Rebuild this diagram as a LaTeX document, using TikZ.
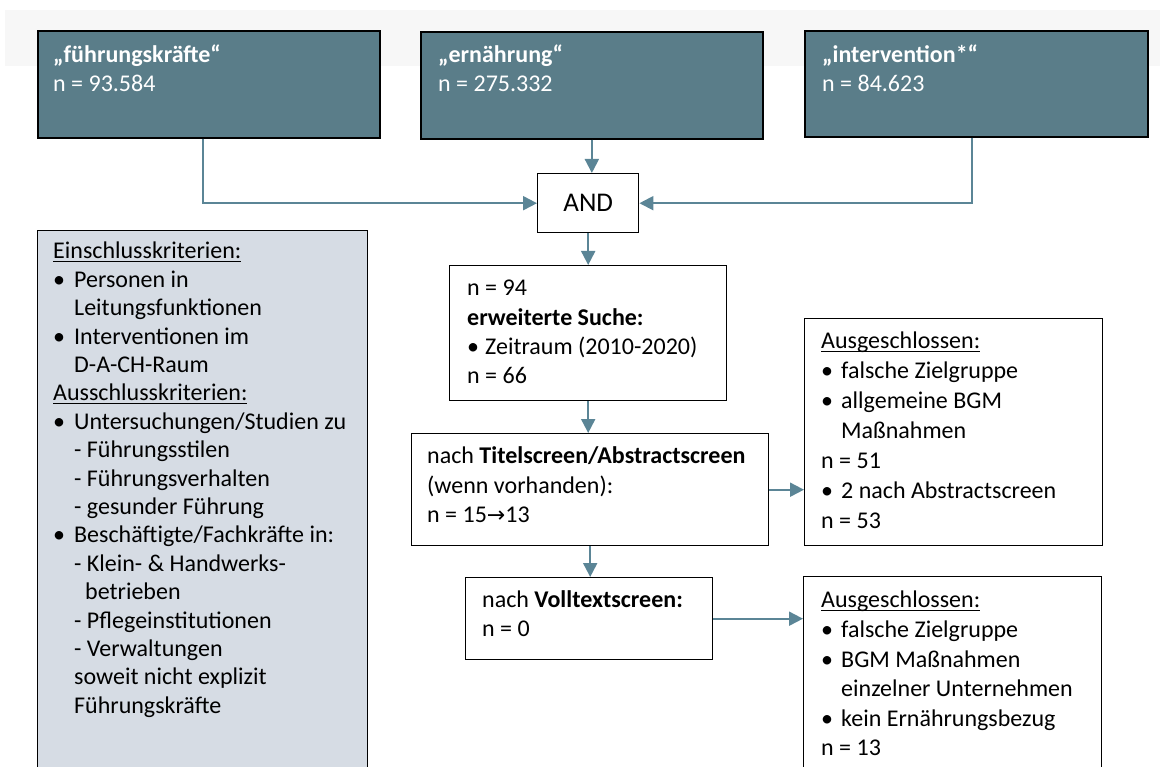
\documentclass[tikz,border=0pt]{standalone}
\usepackage{fontspec}
\setmainfont{Carlito}
\newfontfamily\symf{DejaVu Sans}
\usetikzlibrary{arrows.meta,calc}
\definecolor{topfill}{RGB}{90,125,137}
\definecolor{leftfill}{RGB}{214,220,228}
\definecolor{arrc}{RGB}{91,133,150}
\definecolor{band}{RGB}{247,247,247}
\newcommand\firstln{\rule{0pt}{18pt}}
\newcommand\myul[1]{\setbox0\hbox{#1}\rlap{\rule[-3pt]{\wd0}{1.3pt}}\box0}
\newcommand\bul[1]{\makebox[#1][l]{•}}
\newcommand\ind[1]{\hspace*{#1}}
\begin{document}
\begin{tikzpicture}[x=1pt,y=-1pt,
  box/.style={draw=black, line width=1.4pt, anchor=north west, inner sep=0pt, fill=white},
  topbox/.style={box, fill=topfill, line width=1.7pt},
  txt/.style={anchor=north west, inner sep=0pt, align=left},
  arr/.style={draw=arrc, line width=2pt, -{Triangle[length=14pt,width=14pt]}},
]
\useasboundingbox (0,0) rectangle (1165,767);
\clip (0,0) rectangle (1165,767);
\fill[band] (5,10) rectangle (1160,66);

% top boxes
\node[topbox, minimum width=342pt, minimum height=107pt] (b1) at (37,30) {};
\node[topbox, minimum width=342pt, minimum height=107pt] (b2) at (420,31) {};
\node[topbox, minimum width=343pt, minimum height=106pt] (b3) at (804,30) {};
\node[txt, text=white, font=\fontsize{24}{29}\selectfont] (t1) at (53,44.6) {\firstln\textbf{„führungskräfte“}\\n = 93.584};
\node[txt, text=white, font=\fontsize{24}{29}\selectfont] (t2) at (438,44.6) {\firstln\textbf{„ernährung“}\\n = 275.332};
\node[txt, text=white, font=\fontsize{24}{29}\selectfont] (t3) at (822,44.6) {\firstln\textbf{„intervention*“}\\n = 84.623};

% AND
\node[box, minimum width=101pt, minimum height=59pt, font=\fontsize{27}{32}\selectfont] (and) at (537,173) {AND};

% left criteria box
\node[box, fill=leftfill, minimum width=330pt, minimum height=570pt] (crit) at (37,230) {};
\node[txt, font=\fontsize{24}{28.4}\selectfont] (crittext) at (53,240.6) {\firstln\myul{Einschlusskriterien:}\\
\bul{21pt}Personen in\\
\ind{21pt}Leitungsfunktionen\\
\bul{21pt}Interventionen im\\
\ind{21pt}D-A-CH-Raum\\
\myul{Ausschlusskriterien:}\\
\bul{21pt}Untersuchungen/Studien zu\\
\ind{21pt}- Führungsstilen\\
\ind{21pt}- Führungsverhalten\\
\ind{21pt}- gesunder Führung\\
\bul{21pt}Beschäftigte/Fachkräfte in:\\
\ind{21pt}- Klein- \& Handwerks-\\
\ind{32pt}betrieben\\
\ind{21pt}- Pflegeinstitutionen\\
\ind{21pt}- Verwaltungen\\
\ind{21pt}soweit nicht explizit\\
\ind{21pt}Führungskräfte};

% middle column
\node[box, minimum width=277pt, minimum height=135pt] (n94) at (449,265) {};
\node[txt, font=\fontsize{24}{29.3}\selectfont] (n94text) at (467,277.6) {\firstln n = 94\\
\textbf{erweiterte Suche:}\\
\bul{18pt}Zeitraum (2010-2020)\\
n = 66};

\node[box, minimum width=357pt, minimum height=112pt] (titel) at (411,433) {};
\node[txt, font=\fontsize{24}{29.5}\selectfont] (titeltext) at (427,445.6) {\firstln nach \textbf{Titelscreen/Abstractscreen}\\
(wenn vorhanden):\\
n = 15{\symf\fontsize{22}{29.5}\selectfont →}13};

\node[box, minimum width=247pt, minimum height=82pt] (voll) at (465,577) {};
\node[txt, font=\fontsize{24}{29}\selectfont] (volltext) at (482,589.6) {\firstln nach \textbf{Volltextscreen:}\\
n = 0};

% right column
\node[box, minimum width=298pt, minimum height=227pt] (r1) at (804,318) {};
\node[txt, font=\fontsize{24}{30}\selectfont] (r1text) at (821,330.6) {\firstln\myul{Ausgeschlossen:}\\
\bul{20pt}falsche Zielgruppe\\
\bul{20pt}allgemeine BGM\\
\ind{20pt}Maßnahmen\\
n = 51\\
\bul{20pt}2 nach Abstractscreen\\
n = 53};

\node[box, minimum width=298pt, minimum height=260pt] (r2) at (803,576) {};
\node[txt, font=\fontsize{24}{29.6}\selectfont] (r2text) at (821,589.6) {\firstln\myul{Ausgeschlossen:}\\
\bul{20pt}falsche Zielgruppe\\
\bul{20pt}BGM Maßnahmen\\
\ind{20pt}einzelner Unternehmen\\
\bul{20pt}kein Ernährungsbezug\\
n = 13};

% connectors
\draw[arr] ([xshift=-6pt]b1.south) |- (and.west);
\draw[arr] ([xshift=-4.5pt]b3.south) |- (and.east);
\draw[arr] (b2.south) -- (b2.south |- and.north);
\draw[arr] (and.south) -- (and.south |- n94.north);
\draw[arr] (n94.south) -- (n94.south |- titel.north);
\draw[arr] (titel.south) -- (titel.south |- voll.north);
\draw[arr] (titel.east) -- (titel.east -| r1.west);
\draw[arr] (voll.east) -- (voll.east -| r2.west);
\end{tikzpicture}
\end{document}
